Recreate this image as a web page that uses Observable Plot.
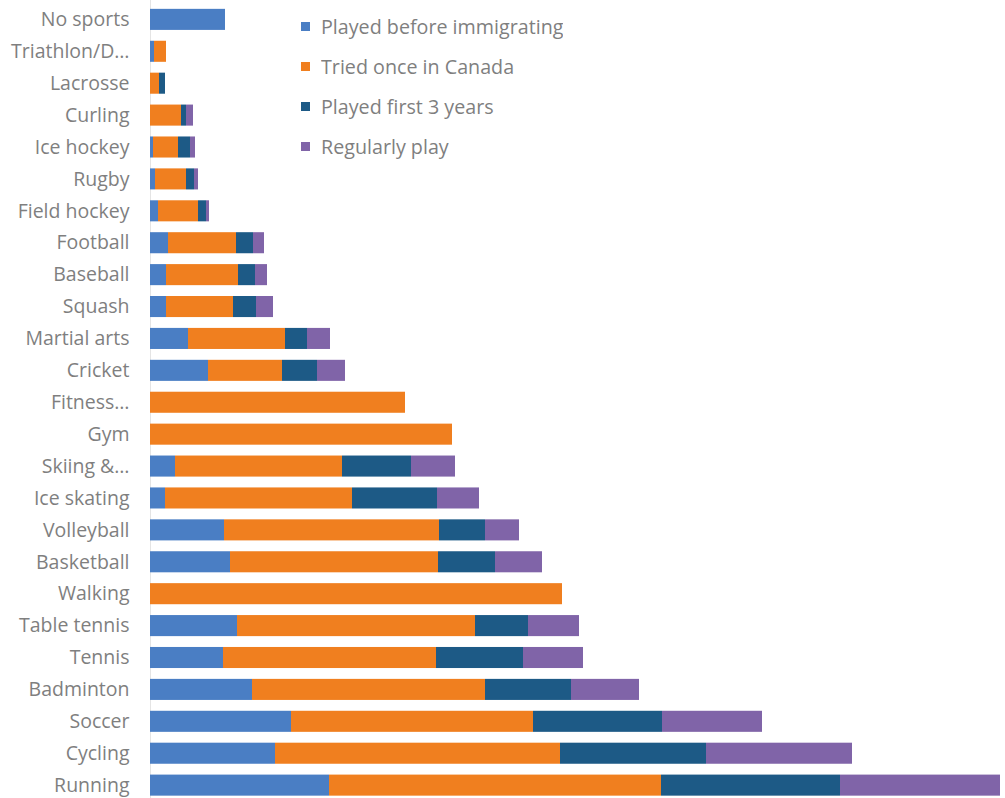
<!DOCTYPE html>
<html>
<head>
<meta charset="utf-8">
<script src="https://cdn.jsdelivr.net/npm/d3@7"></script>
<script src="https://cdn.jsdelivr.net/npm/@observablehq/plot@0.6"></script>
<style>
  html, body { margin: 0; padding: 0; background: #fff; }
  #chart { position: relative; width: 1005px; height: 798px; overflow: hidden; }
  #legend { position: absolute; left: 301px; top: 6px; }
  #legend .lg-swatch { height: 40px; display: flex; align-items: center; padding: 0 !important; }
  #legend .lg-swatch svg { margin-right: 11px !important; }
  #legend .lg-swatch-label { font-family: "Open Sans", sans-serif; font-size: 19.7px; color: #7f7f7f; }
</style>
</head>
<body>
<div id="chart"></div>
<script>
// Sports by stage of participation, top to bottom
const categories = [
  "No sports", "Triathlon/D…", "Lacrosse", "Curling", "Ice hockey", "Rugby",
  "Field hockey", "Football", "Baseball", "Squash", "Martial arts", "Cricket",
  "Fitness…", "Gym", "Skiing &…", "Ice skating", "Volleyball", "Basketball",
  "Walking", "Table tennis", "Tennis", "Badminton", "Soccer", "Cycling", "Running"
];

const series = ["Played before immigrating", "Tried once in Canada", "Played first 3 years", "Regularly play"];
const colors = ["#4A7EC4", "#F07F1F", "#1D5A86", "#8064A8"];

const playedBefore = [75, 4, 0, 0, 3, 5, 8, 18, 16, 16, 38, 58, 0, 0, 25, 15, 74, 80, 0, 87, 73, 102, 141, 125, 179];
const triedOnce    = [0, 12, 9, 31, 25, 31, 40, 68, 72, 67, 97, 74, 255, 302, 167, 187, 215, 208, 412, 238, 213, 233, 242, 285, 332];
const firstYears   = [0, 0, 6, 5, 12, 8, 8, 17, 17, 23, 22, 35, 0, 0, 69, 85, 46, 57, 0, 53, 87, 86, 129, 146, 179];
const regularly    = [0, 0, 0, 7, 5, 4, 3, 11, 12, 17, 23, 28, 0, 0, 44, 42, 34, 47, 0, 51, 60, 68, 100, 146, 160];

const seriesValues = [playedBefore, triedOnce, firstYears, regularly];

const rows = categories.flatMap((sport, i) =>
  series.map((group, j) => ({sport, group, value: seriesValues[j][i]}))
);

const totals = categories.map((_, i) => d3.sum(seriesValues, s => s[i]));

const chart = Plot.plot({
  width: 1005,
  height: 798,
  marginLeft: 150,
  marginRight: 5,
  marginTop: 0,
  marginBottom: 0,
  style: {fontFamily: "'Open Sans', sans-serif", fontSize: "19.5px", color: "#7f7f7f", background: "#fff"},
  x: {domain: [0, d3.max(totals)], axis: null},
  y: {domain: categories, range: [-2, 806.5], padding: 0.34, round: false, label: null, tickSize: 0, tickPadding: 21},
  color: {domain: series, range: colors},
  marks: [
    Plot.ruleX([0], {stroke: "#e4e4e4", strokeWidth: 1}),
    Plot.barX(rows, {y: "sport", x: "value", fill: "group"})
  ]
});
document.getElementById("chart").appendChild(chart);

const legend = Plot.legend({
  color: {domain: series, range: colors},
  legend: "swatches",
  columns: 1,
  swatchSize: 9,
  className: "lg"
});
legend.id = "legend";
document.getElementById("chart").appendChild(legend);
</script>
</body>
</html>
